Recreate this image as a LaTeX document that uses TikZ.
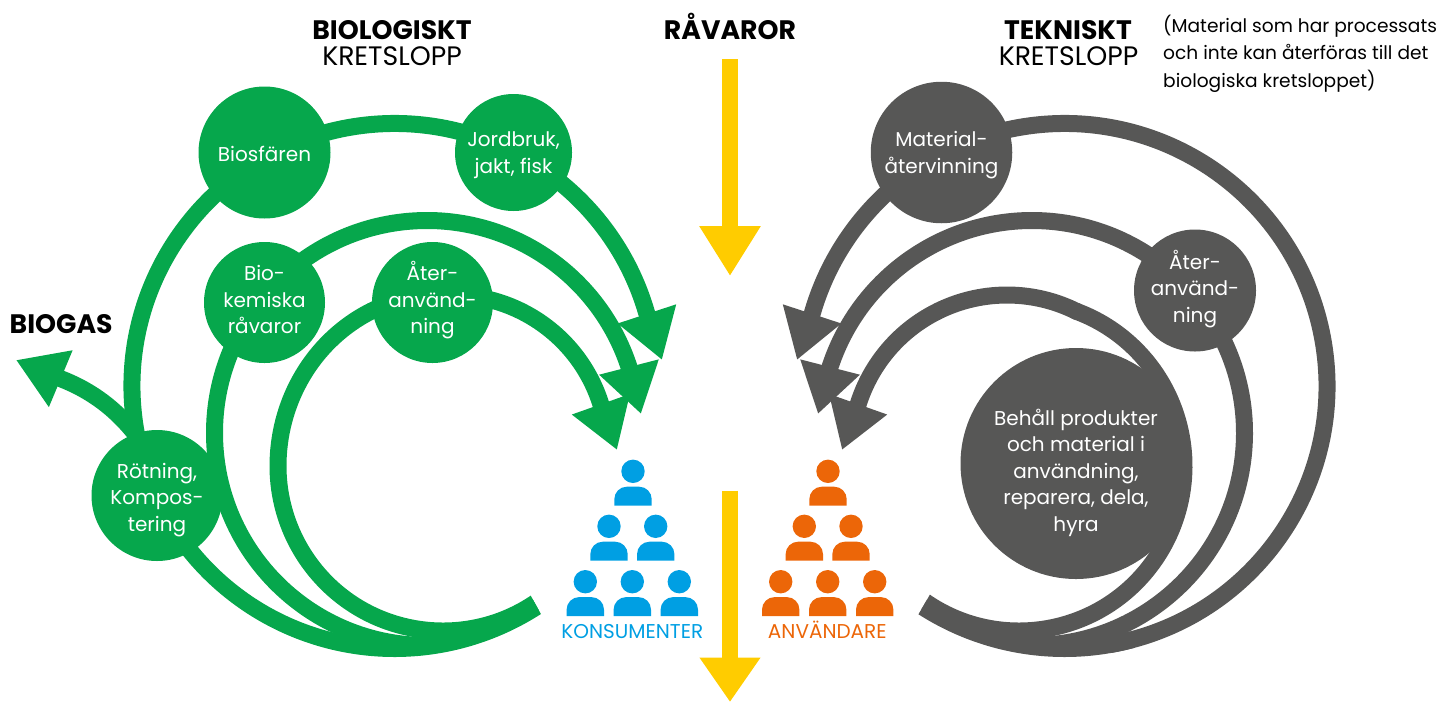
\documentclass[tikz,border=0pt]{standalone}
\usepackage{fontspec}
\setmainfont{Poppins}
\usetikzlibrary{arrows.meta,calc}
\definecolor{cgreen}{HTML}{06A74C}
\definecolor{cgrey}{HTML}{575756}
\definecolor{cyellow}{HTML}{FFCC00}
\definecolor{cblue}{HTML}{009FE3}
\definecolor{corange}{HTML}{EC6608}
\newcommand\ctxt[2]{\raisebox{#1}[0pt][0pt]{\begin{tabular}[t]{@{}c@{}}#2\end{tabular}}}
\tikzset{
  disc/.style={circle,inner sep=0pt,outer sep=0pt,minimum size=#1,text=white,
    font=\fontsize{20}{26.6}\selectfont},
  gband/.style={draw=cgreen,line width=17pt,line join=round},
  kband/.style={draw=cgrey,line width=17pt,line join=round},
  bighead/.style={-{Triangle[length=48.5pt,width=58pt]}},
  yband/.style={draw=cyellow,line width=16.5pt,-{Triangle[length=50pt,width=58pt]}},
  ttl/.style={anchor=base,inner sep=0pt,font=\fontsize{26.7}{30}\selectfont\bfseries},
  sub/.style={anchor=base,inner sep=0pt,font=\fontsize{26.7}{30}\selectfont},
  lbl/.style={anchor=base,inner sep=0pt,font=\fontsize{20}{24}\selectfont},
  person/.pic={
    \fill (0,0) circle[radius=11.7];
    \fill (-18.7,-34.4) [rounded corners=12.5pt] -- (-18.7,-15.4) -- (18.7,-15.4) [sharp corners] -- (18.7,-34.4) -- cycle;
  }
}
\begin{document}
\begin{tikzpicture}[x=1pt,y=1pt]
\useasboundingbox (0,0) rectangle (1440,-702);
% centres and free ends
\coordinate (cgA) at (394.5,-386);
\coordinate (cgB) at (427,-433);
\coordinate (cgC) at (443,-466);
\coordinate (cgD) at (452,-451);
\coordinate (ckA) at (1064.5,-386);
\coordinate (ckB) at (1032,-433);
\coordinate (ckC) at (1019,-466);
\coordinate (ckD) at (1007,-451);
\coordinate (tipG1) at (662,-360);
\coordinate (tipG2) at (641,-414);
\coordinate (tipG3) at (617,-450);
\coordinate (tipK1) at (797,-360);
\coordinate (tipK2) at (818,-414);
\coordinate (tipK3) at (842,-450);
\coordinate (tipGas) at (16,-360);
\coordinate (gasBase) at (61.5,-379);
\coordinate (gasStart) at (140,-440);
\coordinate (yA) at (730,-59);
\coordinate (yAe) at (730,-276);
\coordinate (yB) at (730,-490.7);
\coordinate (yBe) at (730,-702);
% green bands
\draw[gband,bighead] ($(cgA)+(192:262.5)$) arc[start angle=192,end angle=16.1,radius=262.5] -- (tipG1);
\draw[gband,bighead] ($(cgB)+(272:212.5)$) arc[start angle=272,end angle=18.3,radius=212.5] -- (tipG2);
\draw[gband,bighead] ($(cgD)+(100:156)$) arc[start angle=100,end angle=17.5,radius=156] -- (tipG3);
\draw[gband,bighead] (gasStart) .. controls (118,-410) and (92,-391) .. (gasBase) -- (tipGas);
\begin{scope}
  \clip (0,0) -- (482,0) -- (482,-508) -- (532,-598) -- (542,-616) -- (558,-645) -- (558,-702) -- (0,-702) -- cycle;
  \draw[gband] ($(cgA)+(215:262.5)$) arc[start angle=215,end angle=306,radius=262.5];
  \draw[gband] ($(cgC)+(308:165)$) arc[start angle=308,end angle=180,radius=165] arc[start angle=180,end angle=85,x radius=165,y radius=172];
\end{scope}
% grey bands
\draw[kband,bighead] ($(ckA)+(280:262.5)$) arc[start angle=280,end angle=523.9,radius=262.5] -- (tipK1);
\draw[kband,bighead] ($(ckB)+(268:212.5)$) arc[start angle=268,end angle=521.7,radius=212.5] -- (tipK2);
\draw[kband,bighead,line cap=round] ($(ckD)+(63.5:156)$) arc[start angle=63.5,end angle=162.5,radius=156] -- (tipK3);
\begin{scope}
  \clip (1440,0) -- (977,0) -- (977,-508) -- (928,-598) -- (918,-615) -- (901,-645) -- (901,-702) -- (1440,-702) -- cycle;
  \draw[kband] ($(ckA)+(232:262.5)$) arc[start angle=232,end angle=285,radius=262.5];
  \draw[kband,line cap=round] ($(ckC)+(232:165)$) arc[start angle=232,end angle=429.6,radius=165];
\end{scope}
% yellow arrows
\draw[yband] (yA) -- (yAe);
\draw[yband,-{Triangle[length=44.5pt,width=58pt]}] (yB) -- (yBe);
% green discs
\node[disc=132pt,fill=cgreen] (biosf) at (264.5,-152.5) {\ctxt{-9.2pt}{Biosfären}};
\node[disc=117pt,fill=cgreen] (jord) at (513.5,-152.5) {\ctxt{5.8pt}{Jordbruk,\\jakt, fisk}};
\node[disc=121pt,fill=cgreen] (biokem) at (264.5,-302.5) {\ctxt{21.8pt}{Bio-\\kemiska\\råvaror}};
\node[disc=121pt,fill=cgreen] (ateranvG) at (432.5,-302.5) {\ctxt{21.8pt}{Åter-\\använd-\\ning}};
\node[disc=131pt,fill=cgreen] (rotning) at (157,-495.5) {\ctxt{17.5pt}{Rötning,\\Kompos-\\tering}};
% grey discs
\node[disc=141.5pt,fill=cgrey] (matat) at (941.5,-152.5) {\ctxt{5.8pt}{Material-\\återvinning}};
\node[disc=122pt,fill=cgrey] (ateranvK) at (1195,-290.5) {\ctxt{21.5pt}{Åter-\\använd-\\ning}};
\node[disc=231pt,fill=cgrey] (behall) at (1076,-463.5) {\ctxt{38.5pt}{Behåll produkter\\och material i\\användning,\\reparera, dela,\\hyra}};
% headings
\node[ttl] (h1) at (392,-39) {BIOLOGISKT};
\node[sub] (h1b) at (392,-65) {KRETSLOPP};
\node[ttl] (h2) at (730,-39) {RÅVAROR};
\node[ttl] (h3) at (1068,-39) {TEKNISKT};
\node[sub] (h3b) at (1068.5,-65) {KRETSLOPP};
\node[ttl,anchor=base west] (gas) at (9.5,-333.5) {BIOGAS};
\node[anchor=base west,inner sep=0pt,font=\fontsize{18.6}{27.6}\selectfont] (note) at (1163,-32) {\begin{tabular}[t]{@{}l@{}}(Material som har processats\\och inte kan återföras till det\\biologiska kretsloppet)\end{tabular}};
% people
\foreach \px/\py in {633/471.3,609/526.3,655.7/526.3,585.3/581.7,632.3/581.7,679.3/581.7}
  \pic[color=cblue] at (\px,-\py) {person};
\foreach \px/\py in {828/471.3,804.3/526.3,851/526.3,780.7/581.7,827.7/581.7,874.7/581.7}
  \pic[color=corange] at (\px,-\py) {person};
\node[lbl,text=cblue] (kons) at (632.3,-638.3) {KONSUMENTER};
\node[lbl,text=corange] (anv) at (827.3,-638.3) {ANVÄNDARE};
\end{tikzpicture}
\end{document}
